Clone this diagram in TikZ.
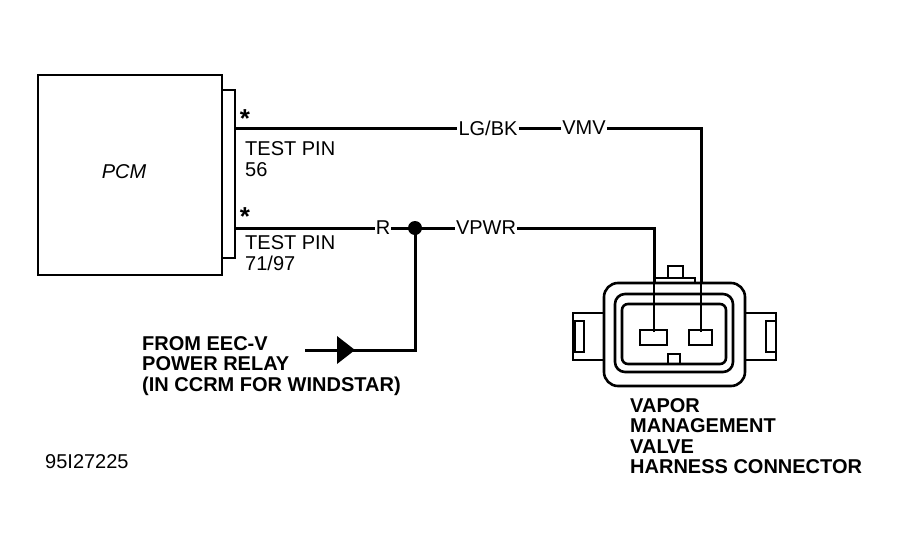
\documentclass[tikz,border=0pt]{standalone}
\usepackage{fontspec}
\setmainfont{Liberation Sans}
\usetikzlibrary{positioning,arrows.meta}
\tikzset{
    wire/.style={line width=3pt},
    lbl/.style={font=\fontsize{20}{21}\selectfont, inner sep=1pt},
    blbl/.style={font=\fontsize{20}{20.5}\selectfont\bfseries, align=left, inner sep=0pt},
    part/.style={line width=2.6pt}
}
\begin{document}
\begin{tikzpicture}[x=1pt,y=-1pt]
    \useasboundingbox (0,0) rectangle (903,552);
    % PCM
    \draw[part] (38,75) rectangle (222,275);
    \draw[part, fill=white] (222,90) rectangle (235,258);
    \node[lbl] (pcm) at (124,172) {\itshape PCM};
    \coordinate (p1) at (235,128);
    \coordinate (p2) at (235,228);
    \node[lbl, font=\fontsize{26}{26}\selectfont\bfseries] at (245,119) {*};
    \node[lbl, font=\fontsize{26}{26}\selectfont\bfseries] at (245,217) {*};
    \node[lbl, anchor=north west, align=left] at (244,140) {TEST PIN\\56};
    \node[lbl, anchor=north west, align=left] at (244,234) {TEST PIN\\71/97};
    % wires
    \node[lbl] (lgbk) at (488,128) {LG/BK};
    \node[lbl] (vmv) at (584,128) {VMV};
    \node[lbl] (r) at (383,228) {R};
    \node[lbl] (vpwr) at (486,228) {VPWR};
    \coordinate (jct) at (415,228);
    \coordinate (pinA) at (654,332);
    \coordinate (pinB) at (701,332);
    \coordinate (relay) at (305,350);
    \draw[wire] (p1) -- (lgbk) -- (vmv) -- (vmv -| pinB) -- (pinB);
    \draw[wire] (p2) -- (r) -- (jct) -- (vpwr) -- (vpwr -| pinA) -- (pinA);
    \draw[wire] (relay) -- (relay -| jct) -- (jct);
    \fill (jct) circle (7pt);
    \fill (337,336) -- (355,350) -- (337,364) -- cycle;
    \node[blbl, anchor=west] at (142,366) {FROM EEC-V\\POWER RELAY\\(IN CCRM FOR WINDSTAR)};
    % connector
    \draw[part] (668,266) rectangle (683,280);
    \draw[part, fill=white] (655,278) rectangle (695,292);
    \draw[part] (573,313) rectangle (604,360);
    \draw[part] (575,321) rectangle (584,352);
    \draw[part] (745,313) rectangle (776,360);
    \draw[part] (766,321) rectangle (776,352);
    \draw[part, fill=white, rounded corners=14pt] (604,283) rectangle (745,386);
    \draw[part, rounded corners=10pt] (615,294) rectangle (733,372);
    \draw[part, rounded corners=6pt] (622,304) rectangle (726,364);
    \draw[part] (640,330) rectangle (667,345);
    \draw[part] (689,330) rectangle (712,345);
    \draw[part] (668,354) rectangle (680,364);
    \draw[part] (pinA) -- (654,284) (pinB) -- (701,284);
    \node[blbl, anchor=north west] at (630,398) {VAPOR\\MANAGEMENT\\VALVE\\HARNESS CONNECTOR};
    \node[lbl, anchor=west] at (44,462) {95I27225};
\end{tikzpicture}
\end{document}
